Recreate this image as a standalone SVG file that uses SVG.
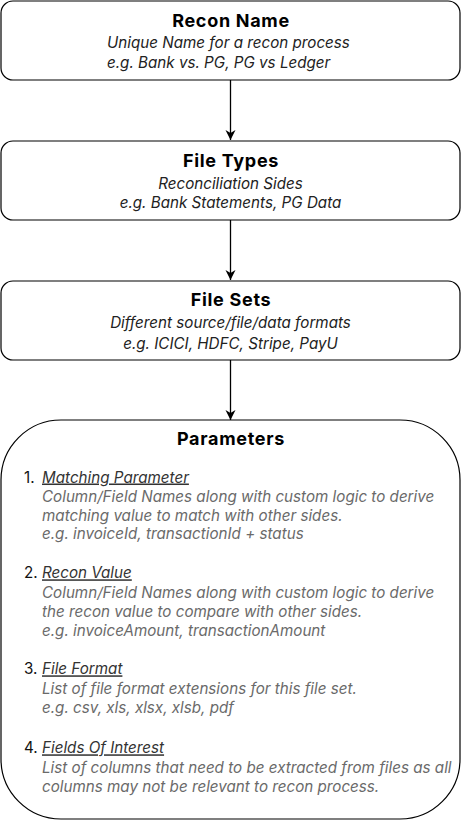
<svg xmlns="http://www.w3.org/2000/svg" width="461" height="821" viewBox="0 0 461 821">
<defs>
<style>
.box{fill:#ffffff;stroke:#000000;stroke-width:1.2}
.h{font-family:Inter,"Liberation Sans",sans-serif;font-weight:bold;font-size:18px;letter-spacing:0.7px;fill:#000;text-anchor:middle}
.s{font-family:Inter,"Liberation Sans",sans-serif;font-style:italic;font-size:15.2px;fill:#222}
.c{text-anchor:middle}
.n{font-family:Inter,"Liberation Sans",sans-serif;font-size:15.2px;fill:#111}
.t{font-family:Inter,"Liberation Sans",sans-serif;font-style:italic;font-size:15.2px;fill:#333}
.d{font-family:Inter,"Liberation Sans",sans-serif;font-style:italic;font-size:15.2px;fill:#6a6a6a}
.conn{stroke:#000;stroke-width:1.3;fill:none}
</style>
<marker id="arr" viewBox="0 0 10 12" refX="10" refY="6" markerWidth="10" markerHeight="12" markerUnits="userSpaceOnUse" orient="auto">
<path d="M0,1 L10,6 L0,11 L3,6 Z" fill="#000"/>
</marker>
</defs>
<g id="connectors">
<line class="conn" x1="230.5" y1="80" x2="230.5" y2="140" marker-end="url(#arr)"/>
<line class="conn" x1="230.5" y1="220" x2="230.5" y2="280" marker-end="url(#arr)"/>
<line class="conn" x1="230.5" y1="360" x2="230.5" y2="420" marker-end="url(#arr)"/>
</g>
<g id="recon-name">
<rect class="box" x="1" y="1" width="459" height="79" rx="12" ry="12"/>
<text class="h" x="231" y="27">Recon Name</text>
<text class="s" x="107" y="48">Unique Name for a recon process</text>
<text class="s" x="107" y="68">e.g. Bank vs. PG, PG vs Ledger</text>
</g>
<g id="file-types">
<rect class="box" x="1" y="141" width="459" height="79" rx="12" ry="12"/>
<text class="h" x="231" y="166.5">File Types</text>
<text class="s c" x="230.5" y="189">Reconciliation Sides</text>
<text class="s c" x="230.5" y="208">e.g. Bank Statements, PG Data</text>
</g>
<g id="file-sets">
<rect class="box" x="1" y="281" width="459" height="79" rx="12" ry="12"/>
<text class="h" x="231" y="306">File Sets</text>
<text class="s c" x="230.5" y="328">Different source/file/data formats</text>
<text class="s c" x="230.5" y="349">e.g. ICICI, HDFC, Stripe, PayU</text>
</g>
<g id="parameters">
<rect class="box" x="1" y="420" width="459" height="399" rx="60" ry="60"/>
<text class="h" x="231" y="445">Parameters</text>
<text class="n" x="24" y="482.5">1.</text>
<text class="t" x="42" y="482.5" text-decoration="underline">Matching Parameter</text>
<text class="d" x="42" y="501.7">Column/Field Names along with custom logic to derive</text>
<text class="d" x="42" y="520.5">matching value to match with other sides.</text>
<text class="d" x="42" y="539.3">e.g. invoiceId, transactionId + status</text>
<text class="n" x="24" y="578.3">2.</text>
<text class="t" x="42" y="578.3" text-decoration="underline">Recon Value</text>
<text class="d" x="42" y="598">Column/Field Names along with custom logic to derive</text>
<text class="d" x="42" y="617">the recon value to compare with other sides.</text>
<text class="d" x="42" y="636">e.g. invoiceAmount, transactionAmount</text>
<text class="n" x="24" y="674.3">3.</text>
<text class="t" x="42" y="674.3" text-decoration="underline">File Format</text>
<text class="d" x="42" y="694">List of file format extensions for this file set.</text>
<text class="d" x="42" y="713.3">e.g. csv, xls, xlsx, xlsb, pdf</text>
<text class="n" x="24" y="753.3">4.</text>
<text class="t" x="42" y="753.3" text-decoration="underline">Fields Of Interest</text>
<text class="d" x="42" y="772.7">List of columns that need to be extracted from files as all</text>
<text class="d" x="42" y="791.7">columns may not be relevant to recon process.</text>
</g>
</svg>
